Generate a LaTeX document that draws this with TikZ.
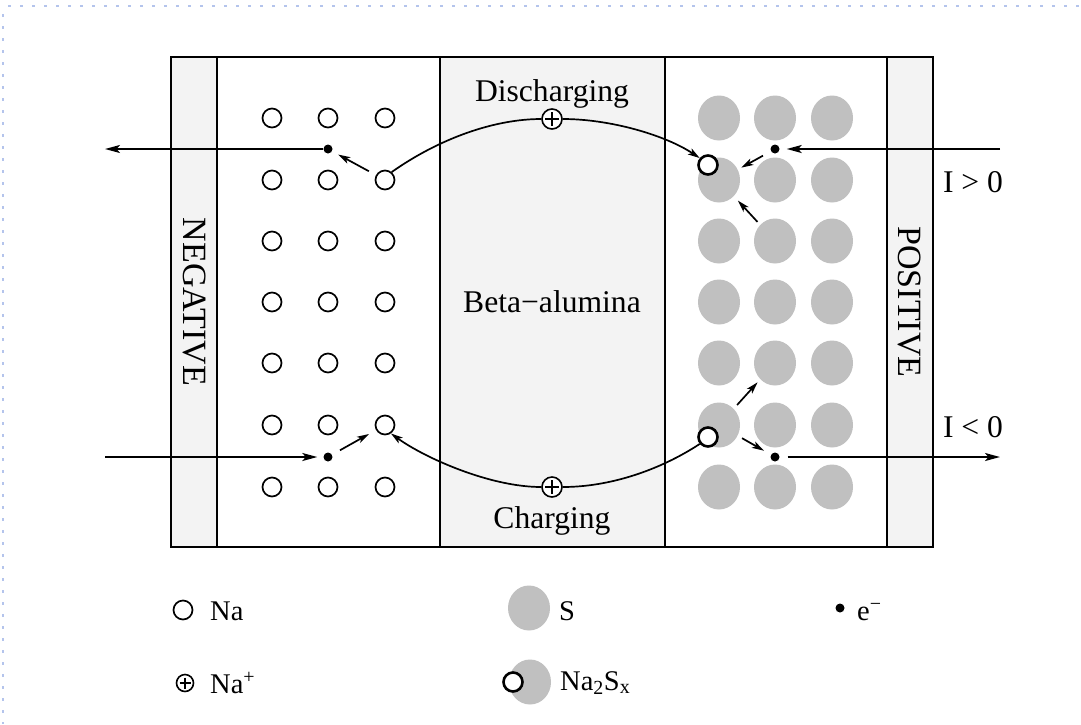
\documentclass[tikz,border=0pt]{standalone}
\usepackage{fontspec}
\setmainfont{Liberation Serif}
\usetikzlibrary{arrows.meta,shapes.geometric}
\definecolor{sgray}{RGB}{192,192,192}
\definecolor{panel}{RGB}{243,243,243}
\definecolor{dotblue}{RGB}{180,196,236}
\begin{document}
\begin{tikzpicture}[x=1pt,y=-1pt,
 lbl/.style={font=\fontsize{31.6}{36}\selectfont, inner sep=0},
 leg/.style={font=\fontsize{28.5}{32}\selectfont, inner sep=0, anchor=base west},
 vlbl/.style={font=\fontsize{34}{38}\selectfont, inner sep=0, rotate=-90},
 na/.style={circle, draw, line width=1.7pt, minimum size=19pt, inner sep=0},
 sulf/.style={ellipse, fill=sgray, minimum width=42pt, minimum height=45pt, inner sep=0},
 naw/.style={circle, draw, fill=white, line width=2.6pt, minimum size=19pt, inner sep=0},
 elec/.style={circle, fill=black, minimum size=9pt, inner sep=0},
 plusn/.style={circle, draw, fill=white, line width=1.6pt, minimum size=#1, inner sep=0,
   path picture={\draw[line width=1.4pt]
     ([yshift=-3pt]path picture bounding box.north) -- ([yshift=3pt]path picture bounding box.south)
     ([xshift=3pt]path picture bounding box.west) -- ([xshift=-3pt]path picture bounding box.east);}},
 plusn/.default=20pt,
 arr/.style={line width=1.9pt, -{Stealth[length=15pt,width=8pt,inset=3.5pt]}},
 sarr/.style={line width=1.7pt, -{Stealth[length=12pt,width=7pt,inset=3pt]}},
 curve/.style={line width=1.7pt},
 ctip/.style={-{Stealth[length=12pt,width=7pt,inset=3pt]}},
 frame/.style={line width=2pt}
]
\path[use as bounding box] (0,0) rectangle (1081,724);
\fill[white] (0,0) rectangle (1081,724);
% dotted page border
\draw[dotblue, line width=2.5pt, dash pattern=on 2.5pt off 9.5pt] (8,6) -- (1081,6);
\draw[dotblue, line width=2.5pt, dash pattern=on 2.5pt off 9.5pt] (3,14) -- (3,724);
% panels
\fill[panel] (171,57) rectangle (217,547);
\fill[panel] (440,57) rectangle (665,547);
\fill[panel] (887,57) rectangle (933,547);
\draw[frame] (171,57) rectangle (933,547);
\draw[frame] (217,57) -- (217,547) (440,57) -- (440,547) (665,57) -- (665,547) (887,57) -- (887,547);
% labels
\node[lbl, anchor=base] (dis) at (552,101) {Discharging};
\node[lbl, anchor=base] (chg) at (552,528) {Charging};
\node[lbl, anchor=base] (beta) at (552,312) {Beta−alumina};
\node[vlbl] (neg) at (194,302) {NEGATIVE};
\node[vlbl] (pos) at (909,302) {POSITIVE};
\node[lbl, anchor=base] (igt) at (973,192) {I > 0};
\node[lbl, anchor=base] (ilt) at (973,437) {I < 0};
% Na grid and S grid
\foreach \r/\y in {1/118,2/180,3/241,4/302,5/363,6/425,7/487}{
  \foreach \c/\x in {1/272,2/328,3/385}{
    \node[na] (n\r\c) at (\x,\y) {};
  }
  \foreach \c/\x in {1/719,2/775,3/832}{
    \node[sulf] (s\r\c) at (\x,\y) {};
  }
}
% Na in Na2Sx
\node[naw] (o1) at (708,165) {};
\node[naw] (o2) at (708,437) {};
% electrons
\node[elec] (e1) at (328,149) {};
\node[elec] (e2) at (775,149) {};
\node[elec] (e3) at (328,457) {};
\node[elec] (e4) at (775,457) {};
\coordinate (tl) at (105,149);
\coordinate (tr) at (1000,149);
\coordinate (bl) at (105,457);
\coordinate (br) at (1000,457);
% Na+ ions
\node[plusn] (pd) at (552,119) {};
\node[plusn] (pc) at (552,487) {};
% discharging
\draw[arr] (e1) -- (tl);
\draw[sarr, shorten <=8pt, shorten >=7pt] (n23) -- (e1);
\draw[curve] (n23.50) .. controls (440,138) and (495,119) .. (pd.west);
\draw[curve, ctip] (pd.east) .. controls (610,119) and (665,135) .. (o1.140);
\draw[arr, shorten >=7pt] (tr) -- (e2);
\draw[sarr, shorten <=9pt, shorten >=4pt] (e2) -- (s21);
\draw[sarr, shorten <=4pt, shorten >=6pt] (s32) -- (s21);
% charging
\draw[arr, shorten >=6pt] (bl) -- (e3);
\draw[sarr, shorten <=9pt, shorten >=8pt] (e3) -- (n63);
\draw[curve] (o2.220) .. controls (660,470) and (610,487) .. (pc.east);
\draw[curve, ctip] (pc.west) .. controls (490,487) and (425,458) .. (n63.-55);
\draw[sarr, shorten <=5pt, shorten >=4pt] (s61) -- (s52);
\draw[sarr, shorten <=5pt, shorten >=8pt] (s61) -- (e4);
\draw[arr, shorten <=8pt] (e4) -- (br);
% legend
\node[na] (lna) at (183,610) {};
\node[leg] (lnat) at (210,620) {Na};
\node[plusn=17pt] (lpl) at (185,683) {};
\node[leg] (lplt) at (210,693) {Na\textsuperscript{+}};
\node[sulf] (ls) at (529,608) {};
\node[leg] (lst) at (559,620) {S};
\node[sulf] (lns) at (530,682) {};
\node[naw] (lnw) at (513,682) {};
\node[leg] (lnst) at (560,690) {Na\textsubscript{2}S\textsubscript{x}};
\node[elec] (le) at (840,608) {};
\node[leg] (let) at (857,620) {e\textsuperscript{−}};
\end{tikzpicture}
\end{document}
